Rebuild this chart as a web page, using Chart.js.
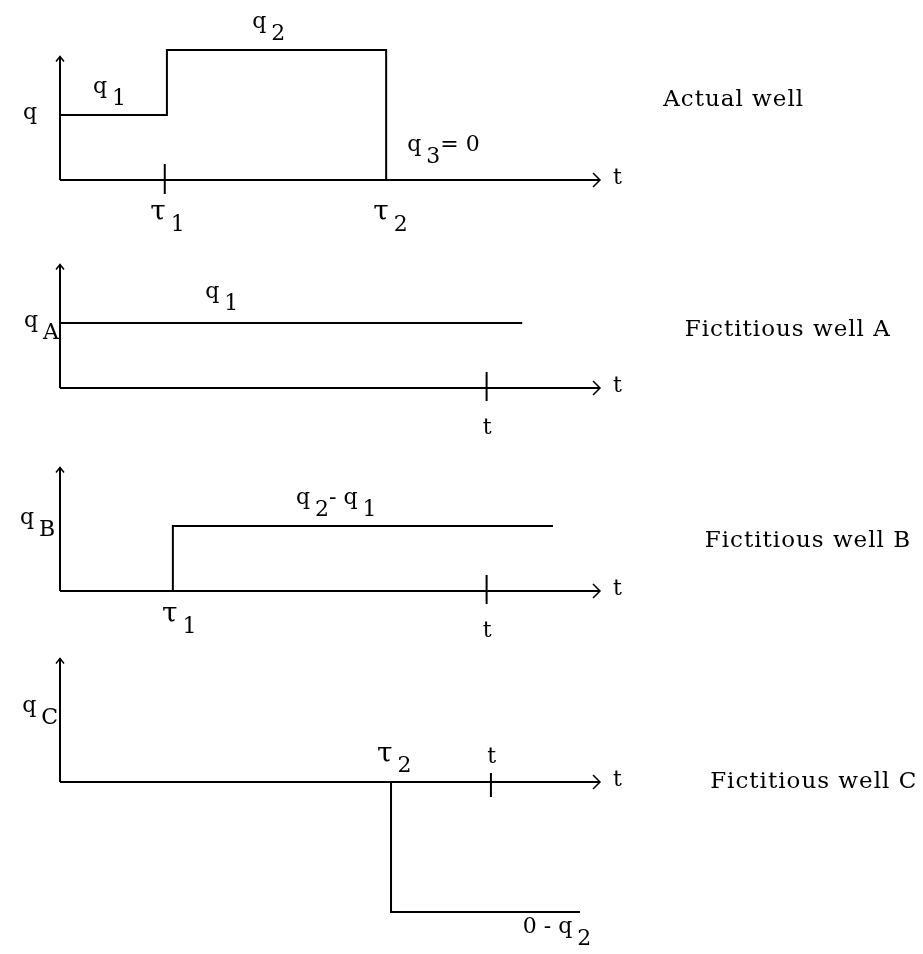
<!DOCTYPE html>
<html>
<head>
<meta charset="utf-8">
<title>Superposition in time - fictitious wells</title>
<script src="https://cdn.jsdelivr.net/npm/chart.js@4.4.1/dist/chart.umd.min.js"></script>
<style>
    html, body { margin: 0; padding: 0; background: #ffffff; }
    #wrap { position: relative; width: 923px; height: 954px; }
    #wrap canvas { position: absolute; left: 0; }
</style>
</head>
<body>
<div id="wrap">
    <canvas id="panelActual"></canvas>
    <canvas id="panelA"></canvas>
    <canvas id="panelB"></canvas>
    <canvas id="panelC"></canvas>
</div>
<script>
// ==========================================
// Rate schedule data (time units, rate units)
// ==========================================

// Actual well: q1 until tau1, q2 until tau2, then shut in (q3 = 0)
const actualTime = [0, 19.8, 19.8, 60.4, 60.4];
const actualRate = [1, 1, 2, 2, 0];

// Fictitious well A: q1 from time zero
const wellATime = [0, 85.6];
const wellARate = [1, 1];

// Fictitious well B: q2 - q1 starting at tau1
const wellBTime = [0, 20.9, 20.9, 91.3];
const wellBRate = [0, 0, 1, 1];

// Fictitious well C: 0 - q2 starting at tau2
const wellCTime = [0, 61.3, 61.3, 96.3];
const wellCRate = [0, 0, -2, -2];

// Time ticks marked on the axes
const tickTau1 = 19.4;
const tickTimeA = 79;
const tickTimeB = 79;
const tickTimeC = 79.8;

const panelTitles = ['Actual well', 'Fictitious well A', 'Fictitious well B', 'Fictitious well C'];

// ==========================================
// Layout
// ==========================================
const PAGE_W = 923;
const AXIS_LEFT = 60;      // pixel of t = 0
const AXIS_RIGHT = 600;    // pixel of t = 100 (arrow end)
const UNIT_PX = 65;        // pixels per rate unit
const Y_ARROW = 1.9;       // height of the q arrow, in rate units

const MATH_FONT = '22px "DejaVu Serif", serif';
const GREEK_FONT = '28px "DejaVu Serif", serif';
const TITLE_FONT = '23px "DejaVu Serif", serif';

function toXY(times, rates) {
    return times.map((t, i) => ({ x: t, y: rates[i] }));
}

// Draw "main" + subscript + trailing text, left edge at px, centred on py
function drawMath(ctx, lbl, px, py) {
    ctx.textBaseline = 'middle';
    ctx.textAlign = 'left';
    ctx.font = lbl.text === 'τ' ? GREEK_FONT : MATH_FONT;
    ctx.fillText(lbl.text, px, py);
    let x = px + ctx.measureText(lbl.text).width;
    ctx.font = MATH_FONT;
    if (lbl.sub) {
        x += 5;
        ctx.fillText(lbl.sub, x, py + 12);
        x += ctx.measureText(lbl.sub).width;
    }
    if (lbl.after) {
        ctx.fillText(lbl.after, x, py);
        x += ctx.measureText(lbl.after).width;
    }
    if (lbl.sub2) {
        x += 5;
        ctx.fillText(lbl.sub2, x, py + 12);
    }
}

const sketchPlugin = {
    id: 'sketch',
    afterDatasetsDraw(chart, args, opts) {
        const ctx = chart.ctx;
        const xs = chart.scales.x;
        const ys = chart.scales.y;
        const x0 = xs.getPixelForValue(0);
        const y0 = ys.getPixelForValue(0);
        const xEnd = xs.getPixelForValue(100);
        const yTop = ys.getPixelForValue(Y_ARROW);

        ctx.save();
        ctx.strokeStyle = '#000';
        ctx.fillStyle = '#000';
        ctx.lineCap = 'butt';

        // axes
        ctx.lineWidth = 2;
        ctx.beginPath();
        ctx.moveTo(x0, y0);
        ctx.lineTo(x0, yTop);
        ctx.moveTo(x0, y0);
        ctx.lineTo(xEnd, y0);
        ctx.stroke();

        // arrow heads
        ctx.lineWidth = 1.5;
        ctx.beginPath();
        ctx.moveTo(x0 - 4, yTop + 5);
        ctx.lineTo(x0, yTop);
        ctx.lineTo(x0 + 4, yTop + 5);
        ctx.moveTo(xEnd - 7, y0 - 7);
        ctx.lineTo(xEnd, y0);
        ctx.lineTo(xEnd - 7, y0 + 7);
        ctx.stroke();

        // tick marks
        ctx.lineWidth = 2;
        (opts.ticks || []).forEach(tk => {
            const px = xs.getPixelForValue(tk.x);
            ctx.beginPath();
            ctx.moveTo(px, y0 - tk.up);
            ctx.lineTo(px, y0 + tk.down);
            ctx.stroke();
        });

        // axis name
        ctx.font = MATH_FONT;
        ctx.textBaseline = 'middle';
        ctx.fillText('t', xEnd + 13, y0 - 2);

        // math labels
        (opts.labels || []).forEach(lbl => {
            drawMath(ctx, lbl, xs.getPixelForValue(lbl.x), ys.getPixelForValue(lbl.y));
        });

        // panel title
        if (opts.title) {
            ctx.font = TITLE_FONT;
            if ('letterSpacing' in ctx) ctx.letterSpacing = '1px';
            ctx.textBaseline = 'middle';
            ctx.fillText(opts.title.text, xs.getPixelForValue(opts.title.x), ys.getPixelForValue(opts.title.y));
        }
        ctx.restore();
    }
};

function makePanel(canvasId, top, height, baseline, points, sketch) {
    const canvas = document.getElementById(canvasId);
    canvas.width = PAGE_W;
    canvas.height = height;
    canvas.style.top = top + 'px';

    return new Chart(canvas, {
        type: 'line',
        data: {
            datasets: [{
                data: points,
                borderColor: '#000000',
                borderWidth: 2,
                borderCapStyle: 'butt',
                borderJoinStyle: 'miter',
                pointRadius: 0,
                fill: false,
                tension: 0
            }]
        },
        options: {
            responsive: false,
            animation: false,
            devicePixelRatio: 1,
            layout: {
                padding: { left: AXIS_LEFT, right: PAGE_W - AXIS_RIGHT, top: 0, bottom: 0 }
            },
            plugins: {
                legend: { display: false },
                tooltip: { enabled: false },
                sketch: sketch
            },
            scales: {
                x: { type: 'linear', min: 0, max: 100, display: false },
                y: {
                    type: 'linear',
                    min: -(top + height - baseline) / UNIT_PX,
                    max: (baseline - top) / UNIT_PX,
                    display: false
                }
            }
        },
        plugins: [sketchPlugin]
    });
}

makePanel('panelActual', 0, 245, 180, toXY(actualTime, actualRate), {
    ticks: [{ x: tickTau1, up: 16, down: 14 }],
    labels: [
        { text: 'q', x: -6.85, y: 1.03 },
        { text: 'q', sub: '1', x: 6.1, y: 1.42 },
        { text: 'q', sub: '2', x: 35.6, y: 2.43 },
        { text: 'q', sub: '3', after: '= 0', x: 64.3, y: 0.54 },
        { text: 'τ', sub: '1', x: 16.7, y: -0.51 },
        { text: 'τ', sub: '2', x: 58, y: -0.51 }
    ],
    title: { text: panelTitles[0], x: 111.7, y: 1.23 }
});

makePanel('panelA', 245, 205, 388, toXY(wellATime, wellARate), {
    ticks: [{ x: tickTimeA, up: 16, down: 13 }],
    labels: [
        { text: 'q', sub: 'A', x: -6.67, y: 1.02 },
        { text: 'q', sub: '1', x: 26.9, y: 1.48 },
        { text: 't', x: tickTimeA - 0.7, y: -0.62 }
    ],
    title: { text: panelTitles[1], x: 115.7, y: 0.89 }
});

makePanel('panelB', 450, 195, 591, toXY(wellBTime, wellBRate), {
    ticks: [{ x: tickTimeB, up: 16, down: 13 }],
    labels: [
        { text: 'q', sub: 'B', x: -7.4, y: 1.12 },
        { text: 'q', sub: '2', after: '- q', sub2: '1', x: 43.7, y: 1.43 },
        { text: 'τ', sub: '1', x: 18.9, y: -0.37 },
        { text: 't', x: tickTimeB - 0.7, y: -0.62 }
    ],
    title: { text: panelTitles[2], x: 119.4, y: 0.77 }
});

makePanel('panelC', 645, 309, 782, toXY(wellCTime, wellCRate), {
    ticks: [{ x: tickTimeC, up: 9, down: 15 }],
    labels: [
        { text: 'q', sub: 'C', x: -7.0, y: 1.17 },
        { text: 'τ', sub: '2', x: 58.7, y: 0.42 },
        { text: 't', x: tickTimeC - 0.7, y: 0.38 },
        { text: '0 - q', sub: '2', x: 85.7, y: -2.23 }
    ],
    title: { text: panelTitles[3], x: 120.4, y: 0 }
});
</script>
</body>
</html>
